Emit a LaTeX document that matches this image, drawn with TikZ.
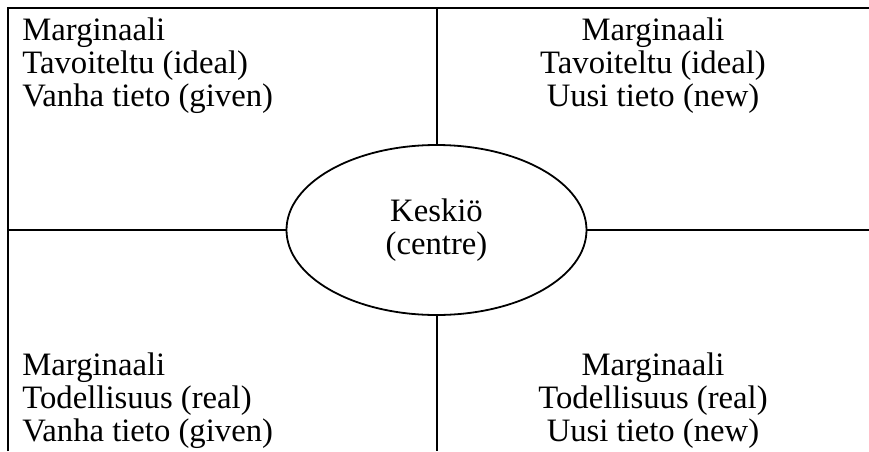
\documentclass[tikz,border=0pt]{standalone}
\usepackage{fontspec}
\setmainfont{Liberation Serif}
\usetikzlibrary{shapes.geometric}

\begin{document}
\begin{tikzpicture}[
  x=0.5pt,y=-0.5pt,
  rule/.style={line width=1pt},
  cell/.style={inner sep=0pt,font=\fontsize{16.35}{16.5}\selectfont}
]
\useasboundingbox (0,0) rectangle (869,451);

% the centre
\node[draw,ellipse,line width=0.9pt,minimum width=150pt,minimum height=85pt,cell,align=center] (centre) at (436.5,230) {Keskiö\\(centre)};

% the four margins
\node[cell,align=left,anchor=north west] (givenideal) at (22,17) {Marginaali\\Tavoiteltu (ideal)\\Vanha tieto (given)};
\node[cell,align=center,anchor=north] (newideal) at (653,17) {Marginaali\\Tavoiteltu (ideal)\\Uusi tieto (new)};
\node[cell,align=left,anchor=north west] (givenreal) at (22,352) {Marginaali\\Todellisuus (real)\\Vanha tieto (given)};
\node[cell,align=center,anchor=north] (newreal) at (653,352) {Marginaali\\Todellisuus (real)\\Uusi tieto (new)};

\coordinate (corner) at (7.5,7.5);
\coordinate (topend) at (869,7.5);
\coordinate (leftend) at (7.5,451);
\coordinate (midtop) at (centre.north |- corner);
\coordinate (midbottom) at (centre.south |- leftend);
\coordinate (midleft) at (centre.west -| corner);
\coordinate (midright) at (centre.east -| topend);

\draw[rule] (leftend) -- (corner) -- (topend);
\draw[rule] (midtop) -- (centre.north);
\draw[rule] (centre.south) -- (midbottom);
\draw[rule] (midleft) -- (centre.west);
\draw[rule] (centre.east) -- (midright);

\end{tikzpicture}
\end{document}
